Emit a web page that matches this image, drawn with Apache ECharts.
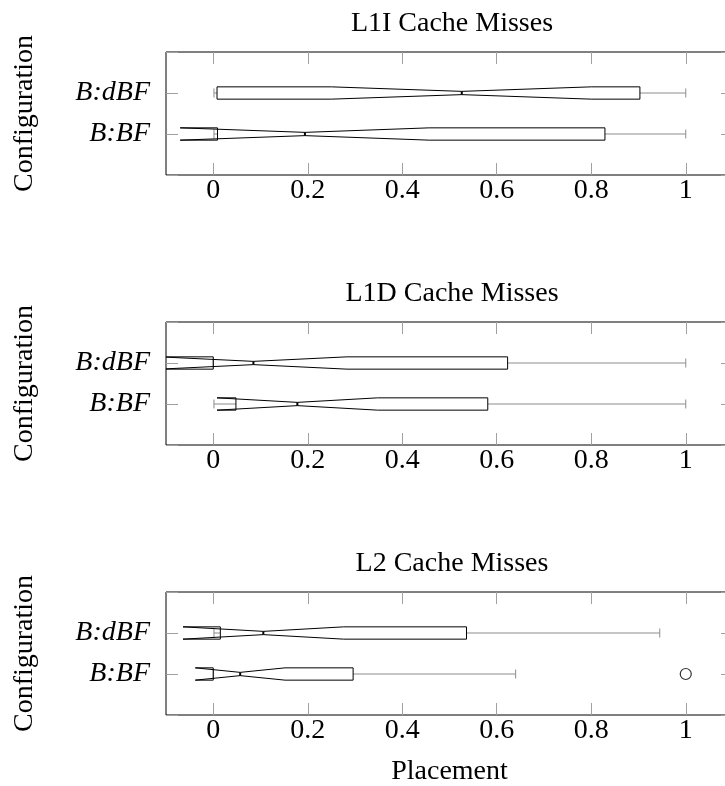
<!DOCTYPE html>
<html>
<head>
    <script src="https://cdn.jsdelivr.net/npm/echarts@6.0.0/dist/echarts.min.js"></script>
    <style>
        html, body { margin: 0; padding: 0; background: #fff; }
        #chart { width: 725px; height: 786px; }
    </style>
</head>
<body>
    <div id="chart"></div>
    <script>
        const configs = ['B:BF', 'B:dBF'];
        const titles = ['L1I Cache Misses', 'L1D Cache Misses', 'L2 Cache Misses'];
        const xTicks = [0, 0.2, 0.4, 0.6, 0.8, 1];

        // per config (B:BF, B:dBF): [lower whisker, q1, median, q3, upper whisker]
        const l1iBoxes = [[0.0015, 0.009, 0.194, 0.829, 1.0], [0.0015, 0.008, 0.526, 0.903, 1.0]];
        const l1dBoxes = [[0.0015, 0.048, 0.178, 0.581, 1.0], [0.0, 0.0, 0.085, 0.623, 1.0]];
        const l2Boxes = [[0.0, 0.0, 0.057, 0.296, 0.640], [0.0015, 0.015, 0.106, 0.536, 0.945]];
        // notch extent [low, high]
        const l1iNotches = [[-0.07, 0.457], [0.25, 0.80]];
        const l1dNotches = [[0.008, 0.348], [-0.113, 0.283]];
        const l2Notches = [[-0.038, 0.152], [-0.064, 0.276]];
        // outliers: [value, config index]
        const l2Outliers = [[1.0, 0]];

        const panels = [
            { boxes: l1iBoxes, notches: l1iNotches, outliers: [] },
            { boxes: l1dBoxes, notches: l1dNotches, outliers: [] },
            { boxes: l2Boxes, notches: l2Notches, outliers: l2Outliers }
        ];

        const font = 'Liberation Serif';
        const fs = 28;
        const tickColor = '#a0a0a0';
        const gridTops = [52, 322, 592];
        const boxHalf = 0.15, notchHalf = 0.04, capHalf = 0.11;

        function renderBox(params, api) {
            const yv = api.value(0);
            const lo = api.value(1), q1 = api.value(2), med = api.value(3),
                  q3 = api.value(4), hi = api.value(5), nLo = api.value(6), nHi = api.value(7);
            const c = x => api.coord([x, yv]);
            const h = api.size([0, boxHalf])[1];
            const nh = api.size([0, notchHalf])[1];
            const ch = api.size([0, capHalf])[1];
            const cy = c(med)[1];
            const X = v => c(v)[0];
            const gray = { stroke: '#8c8c8c', lineWidth: 1 };
            const poly = [
                [X(q1), cy - h], [X(nLo), cy - h], [X(med), cy - nh], [X(nHi), cy - h], [X(q3), cy - h],
                [X(q3), cy + h], [X(nHi), cy + h], [X(med), cy + nh], [X(nLo), cy + h], [X(q1), cy + h]
            ];
            return {
                type: 'group',
                children: [
                    { type: 'line', shape: { x1: X(lo), y1: cy, x2: X(q1), y2: cy }, style: gray },
                    { type: 'line', shape: { x1: X(q3), y1: cy, x2: X(hi), y2: cy }, style: gray },
                    { type: 'line', shape: { x1: X(lo), y1: cy - ch, x2: X(lo), y2: cy + ch }, style: gray },
                    { type: 'line', shape: { x1: X(hi), y1: cy - ch, x2: X(hi), y2: cy + ch }, style: gray },
                    { type: 'polygon', shape: { points: poly }, style: { fill: 'rgba(255,255,255,0)', stroke: '#000', lineWidth: 1 } },
                    { type: 'line', shape: { x1: X(med), y1: cy - nh, x2: X(med), y2: cy + nh }, style: { stroke: '#000', lineWidth: 2 } }
                ]
            };
        }

        const grid = [], xAxis = [], yAxis = [], series = [], title = [];
        panels.forEach((p, i) => {
            grid.push({ left: 166, width: 567, top: gridTops[i], height: 123, outerBoundsMode: 'none',
                show: true, borderColor: '#000', borderWidth: 1, backgroundColor: '#fff' });
            title.push({ text: titles[i], left: 452, textAlign: 'center', top: gridTops[i] - 50, padding: 0,
                textStyle: { fontFamily: font, fontSize: fs, fontWeight: 'normal', color: '#000' } });
            xAxis.push({
                gridIndex: i, type: 'value', min: -0.1, max: 1.1, position: 'bottom',
                axisLine: { show: false, onZero: false }, splitLine: { show: false },
                axisTick: { show: true, inside: true, length: 12, customValues: xTicks, lineStyle: { color: tickColor, width: 1 } },
                axisLabel: { customValues: xTicks, margin: -6, fontFamily: font, fontSize: fs, color: '#000' },
                name: i === 2 ? 'Placement' : '', nameLocation: 'middle', nameGap: 35, nameMoveOverlap: false,
                nameTextStyle: { fontFamily: font, fontSize: fs, color: '#000' }
            });
            xAxis.push({
                gridIndex: i, type: 'value', min: -0.1, max: 1.1, position: 'top',
                axisLine: { show: false, onZero: false }, splitLine: { show: false },
                axisTick: { show: true, inside: true, length: 12, customValues: xTicks, lineStyle: { color: tickColor, width: 1 } },
                axisLabel: { show: false }
            });
            yAxis.push({
                gridIndex: i, type: 'value', min: 0, max: 3, interval: 1, position: 'left',
                axisLine: { show: false, onZero: false }, splitLine: { show: false },
                axisTick: { show: true, inside: true, length: 12, lineStyle: { color: tickColor, width: 1 } },
                axisLabel: { formatter: v => configs[v - 1] || '', margin: 16, showMinLabel: true, showMaxLabel: true,
                    fontFamily: font, fontStyle: 'italic', fontSize: fs, color: '#000' },
                name: 'Configuration', nameLocation: 'middle', nameRotate: 90, nameGap: 120, nameMoveOverlap: false,
                nameTextStyle: { fontFamily: font, fontSize: fs, color: '#000' }
            });
            yAxis.push({
                gridIndex: i, type: 'value', min: 0, max: 3, interval: 1, position: 'right',
                axisLine: { show: false, onZero: false }, splitLine: { show: false },
                axisTick: { show: true, inside: true, length: 12, lineStyle: { color: tickColor, width: 1 } },
                axisLabel: { show: false }
            });
            series.push({
                type: 'custom', xAxisIndex: i * 2, yAxisIndex: i * 2, clip: true,
                renderItem: renderBox,
                encode: { x: [1, 2, 3, 4, 5, 6, 7], y: 0 },
                data: p.boxes.map((b, k) => [k + 1].concat(b, p.notches[k]))
            });
            if (p.outliers.length) {
                series.push({
                    type: 'scatter', xAxisIndex: i * 2, yAxisIndex: i * 2,
                    symbol: 'circle', symbolSize: 11,
                    itemStyle: { color: '#fff', borderColor: '#000', borderWidth: 1.2 },
                    data: p.outliers.map(o => [o[0], o[1] + 1])
                });
            }
        });

        const chart = echarts.init(document.getElementById('chart'));
        chart.setOption({ animation: false, backgroundColor: '#fff', title, grid, xAxis, yAxis, series });
    </script>
</body>
</html>
